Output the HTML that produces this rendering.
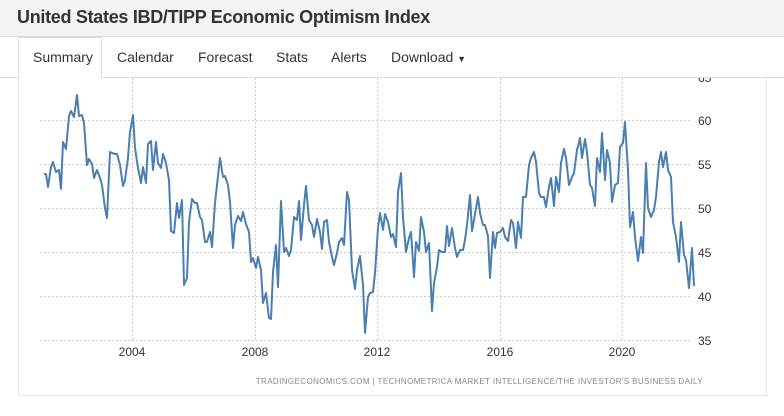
<!DOCTYPE html>
<html><head><meta charset="utf-8"><style>
body{margin:0;width:784px;height:416px;background:#fff;font-family:"Liberation Sans",Arial,sans-serif;position:relative;overflow:hidden}
.hdr{position:absolute;left:0;top:0;width:784px;height:36px;background:#f4f4f4;border-bottom:1px solid #ddd}
.hdr h1{margin:0;position:absolute;left:17px;top:7px;font-size:18px;font-weight:bold;color:#333;letter-spacing:-0.3px}
.tabs{position:absolute;left:0;top:37px;width:784px;height:40px;border-bottom:1px solid #ddd;background:#fff;z-index:2}
.tab{position:absolute;top:12px;font-size:14px;color:#333;z-index:4}
.act{position:absolute;left:18px;top:37px;width:84px;height:41px;background:#fff;border:1px solid #ddd;border-bottom:none;box-sizing:border-box;z-index:3}
.panel{position:absolute;left:18px;top:78px;width:749px;height:318px;border-left:1px solid #e6e6e6;border-right:1px solid #e6e6e6;border-bottom:1px solid #e6e6e6;box-sizing:border-box}
svg{z-index:1}
</style></head><body>
<div class="hdr"><h1>United States IBD/TIPP Economic Optimism Index</h1></div>
<div class="tabs"></div>
<div class="act"></div>
<div class="tab" style="left:33px;top:49px">Summary</div>
<div class="tab" style="left:117px;top:49px">Calendar</div>
<div class="tab" style="left:198px;top:49px">Forecast</div>
<div class="tab" style="left:276px;top:49px">Stats</div>
<div class="tab" style="left:331px;top:49px">Alerts</div>
<div class="tab" style="left:391px;top:49px">Download <span style="font-size:9px">&#9660;</span></div>
<div class="panel"></div>
<svg style="position:absolute;left:0;top:0" width="784" height="416">
<g stroke="#ccc" stroke-dasharray="2,2" stroke-width="1">
<line x1="40" x2="692" y1="120.5" y2="120.5"/><line x1="40" x2="692" y1="164.5" y2="164.5"/><line x1="40" x2="692" y1="208.5" y2="208.5"/><line x1="40" x2="692" y1="252.5" y2="252.5"/><line x1="40" x2="692" y1="296.5" y2="296.5"/><line x1="40" x2="692" y1="340.5" y2="340.5"/>
<line x1="132.5" x2="132.5" y1="78" y2="340"/><line x1="255.5" x2="255.5" y1="78" y2="340"/><line x1="377.5" x2="377.5" y1="78" y2="340"/><line x1="500.5" x2="500.5" y1="78" y2="340"/><line x1="622.5" x2="622.5" y1="78" y2="340"/>
</g>
<g font-size="12" fill="#333" font-family="Liberation Sans,Arial,sans-serif">
<text x="698" y="82">65</text><text x="698" y="125">60</text><text x="698" y="169">55</text><text x="698" y="213">50</text><text x="698" y="257">45</text><text x="698" y="301">40</text><text x="698" y="345">35</text>
<text x="132" y="356" text-anchor="middle">2004</text><text x="255" y="356" text-anchor="middle">2008</text><text x="377" y="356" text-anchor="middle">2012</text><text x="500" y="356" text-anchor="middle">2016</text><text x="622" y="356" text-anchor="middle">2020</text>
</g>
<text x="703" y="384" text-anchor="end" font-size="8" fill="#888" letter-spacing="0.4" font-family="Liberation Sans,Arial,sans-serif">TRADINGECONOMICS.COM  |  TECHNOMETRICA MARKET INTELLIGENCE/THE INVESTOR'S BUSINESS DAILY</text>
<polyline fill="none" stroke="#4a7fb0" stroke-width="2" stroke-linejoin="round" points="44,174 46,174 48,187 51,167 53,162 56,172 59,170 61,189 63,142 66,149 69,116 71,111 74,117 77,95 79,116 82,115 84,123 87,165 89,159 92,164 94,178 97,170 100,178 102,185 105,208 107,218 110,152 112,153 115,154 117,154 120,165 123,186 125,180 128,158 130,132 133,115 135,148 138,168 141,183 143,167 146,183 148,144 151,141 153,170 156,142 158,163 161,168 163,154 166,163 169,180 171,231 174,233 177,203 179,218 182,200 184,285 187,278 189,222 192,199 195,203 197,203 200,217 202,220 205,242 207,242 210,232 212,247 215,203 217,185 220,158 223,177 225,176 228,185 230,202 233,248 235,225 238,216 241,221 243,212 246,224 249,232 251,262 253,258 256,268 258,257 261,270 263,303 266,293 269,318 271,319 273,272 276,245 278,287 281,201 284,252 286,248 289,256 291,250 294,217 297,220 299,201 301,240 304,205 306,186 309,220 312,225 314,237 317,219 320,232 322,249 324,222 327,220 329,242 332,257 334,265 337,253 339,242 342,238 344,245 347,192 349,200 352,270 355,289 357,270 360,256 363,285 365,333 368,297 370,293 373,292 375,273 378,228 380,213 383,230 385,214 388,222 391,237 393,234 396,247 398,192 401,173 403,217 406,252 409,238 411,232 414,277 416,242 419,251 421,217 424,232 426,252 429,243 432,311 434,283 437,267 439,250 442,252 445,252 447,226 449,246 452,228 455,248 457,257 460,250 463,250 465,240 467,225 470,195 472,231 475,214 478,197 480,213 483,225 485,225 488,236 490,278 493,232 495,248 497,233 500,232 503,228 505,237 508,241 511,220 513,223 516,248 518,222 521,238 523,197 526,197 529,165 531,158 534,152 536,162 539,193 541,197 544,197 546,207 549,187 551,178 554,206 556,177 559,192 561,163 564,149 566,158 569,185 572,177 574,173 577,150 580,138 582,158 585,139 587,152 590,185 592,188 595,206 597,158 600,172 602,133 605,180 607,150 610,163 612,202 615,185 618,183 620,147 623,143 625,122 628,170 630,227 633,212 635,237 638,261 641,237 643,253 646,163 648,208 651,217 654,210 656,197 659,162 661,152 663,167 666,152 668,170 671,177 673,222 676,237 679,262 681,222 684,255 686,260 689,288 692,248 694,286"/>
</svg>
</body></html>
